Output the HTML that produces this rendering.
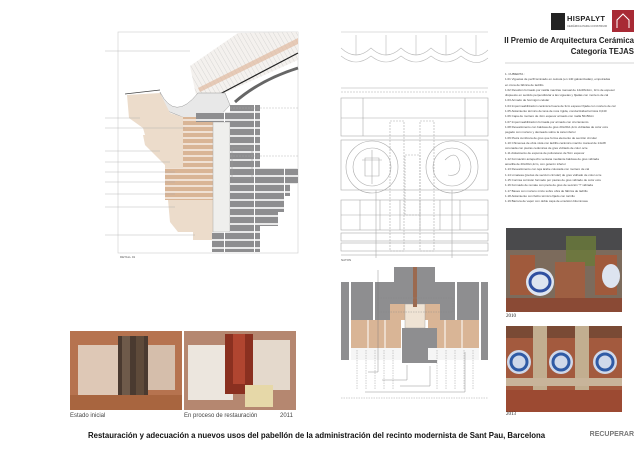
<!DOCTYPE html>
<html><head><meta charset="utf-8"><style>
html,body{margin:0;padding:0;background:#fff;}
body{width:640px;height:453px;position:relative;overflow:hidden;font-family:"Liberation Sans",sans-serif;}
.t{position:absolute;white-space:nowrap;color:#222;}
</style></head><body>
<svg width="640" height="453" style="position:absolute;left:0;top:0" xmlns="http://www.w3.org/2000/svg">
<defs>
<pattern id="hatch" width="4" height="4" patternUnits="userSpaceOnUse" patternTransform="rotate(-30)">
<rect width="4" height="4" fill="#f4f1ee"/><line x1="0" y1="0" x2="0" y2="4" stroke="#bbb" stroke-width="0.5"/></pattern>
<pattern id="gbrick" width="30" height="8" patternUnits="userSpaceOnUse">
<rect width="30" height="8" fill="#fff"/><rect x="0" y="0.8" width="14" height="6.4" fill="#8e8e90"/><rect x="15" y="0.8" width="15" height="6.4" fill="#8e8e90"/></pattern>
<pattern id="tbrick" width="30" height="6" patternUnits="userSpaceOnUse">
<rect width="30" height="6" fill="#fff"/><rect x="0" y="0.6" width="30" height="4.8" fill="#d9b596"/></pattern>
</defs>
<rect x="118" y="32" width="180" height="221" fill="none" stroke="#ccc" stroke-width="0.6"/>
<polygon points="190,66 238,33 298,32 298,60 220,95 196,95" fill="url(#hatch)"/>
<polygon points="198,88 298,38 298,44 200,92" fill="#e0b9a0" opacity="0.7"/>
<line x1="218" y1="95" x2="298" y2="53" stroke="#222" stroke-width="1.2"/>
<path d="M235,102 Q260,80 298,68" stroke="#666" stroke-width="3" fill="none"/>
<path d="M160,92 Q175,122 198,93 L225,93 L230,105 L218,118 L185,118 L165,110 Z" fill="#e8e8e8" stroke="#999" stroke-width="0.5"/>
<line x1="125" y1="94" x2="160" y2="90" stroke="#444" stroke-width="0.8"/>
<polygon points="127,95 160,93 170,113 183,117 183,135 145,135 143,128 129,118" fill="#ecdccb"/>
<polygon points="143,135 183,135 183,165 165,165 155,155 145,145" fill="#ecdccb"/>
<polygon points="165,165 183,165 183,200 165,200" fill="#ecdccb"/>
<polygon points="168,200 213,200 213,232 178,232 170,222" fill="#ecdccb"/>
<rect x="193" y="230" width="20" height="10" fill="#ecdccb"/>
<rect x="183" y="117" width="30" height="83" fill="url(#tbrick)"/>
<rect x="165" y="168" width="20" height="32" fill="url(#tbrick)"/>
<rect x="213" y="122" width="17" height="110" fill="#efefed" stroke="#aaa" stroke-width="0.5"/>
<rect x="230" y="105" width="30" height="145" fill="url(#gbrick)"/>
<rect x="196" y="112" width="34" height="10" fill="url(#gbrick)"/>
<rect x="212" y="232" width="48" height="20" fill="url(#gbrick)"/>
<rect x="260" y="168" width="38" height="16" fill="url(#gbrick)"/>
<rect x="260" y="184" width="30" height="12" fill="url(#gbrick)"/>
<rect x="260" y="196" width="25" height="16" fill="url(#gbrick)"/>
<rect x="260" y="212" width="18" height="14" fill="url(#gbrick)"/>
<rect x="232" y="148" width="20" height="30" fill="none" stroke="#999" stroke-width="0.5"/>
<g stroke="#aaa" stroke-width="0.4">
<line x1="105" y1="51" x2="190" y2="51"/><line x1="105" y1="118" x2="140" y2="118"/><line x1="105" y1="128" x2="185" y2="128"/><line x1="105" y1="151" x2="160" y2="151"/><line x1="105" y1="162" x2="170" y2="162"/><line x1="105" y1="172" x2="175" y2="172"/><line x1="105" y1="182" x2="175" y2="182"/><line x1="105" y1="194" x2="175" y2="194"/><line x1="105" y1="207" x2="175" y2="207"/><line x1="105" y1="235" x2="195" y2="235"/>
<line x1="230" y1="156" x2="298" y2="156" stroke-dasharray="2,1"/><line x1="230" y1="108" x2="298" y2="108" stroke-dasharray="2,1"/>
</g>
<g fill="none" stroke="#bbb" stroke-width="0.6">
<line x1="341" y1="32" x2="488" y2="32"/>
<path d="M341,48 Q356,62 371,48 Q386,62 401,48 Q416,62 431,48 Q446,62 461,48 Q476,62 488,50"/>
<path d="M341,56 Q356,68 371,56 Q386,68 401,56 Q416,68 431,56 Q446,68 461,56 Q476,68 488,58"/>
<path d="M356,35 V55 M386,35 V55 M416,35 V55 M446,35 V55 M476,35 V55"/>
</g>
<g fill="none" stroke="#aaa" stroke-width="0.6">
<line x1="341" y1="88" x2="488" y2="88"/><line x1="341" y1="92" x2="488" y2="92" stroke-dasharray="2,1"/>
<rect x="341" y="98" width="147" height="38"/><line x1="363" y1="98" x2="363" y2="136"/><line x1="465" y1="98" x2="465" y2="136"/>
<line x1="341" y1="118" x2="488" y2="118"/>
<circle cx="372" cy="167" r="26"/><circle cx="372" cy="167" r="19"/>
<circle cx="452" cy="167" r="26"/><circle cx="452" cy="167" r="19"/>
<path d="M362,160 h20 M372,150 v34 M365,158 h14 v18 h-14z"/>
<path d="M445,160 q12,-12 15,5 q0,12 -12,10"/>
<rect x="341" y="140" width="147" height="50"/>
<rect x="341" y="200" width="147" height="30"/><line x1="341" y1="215" x2="488" y2="215"/>
<path d="M360,200 v30 M380,200 v30 M400,200 v30 M420,200 v30 M440,200 v30 M460,200 v30"/>
<rect x="341" y="233" width="147" height="8"/><rect x="341" y="243" width="147" height="8"/>
<g stroke-dasharray="2,1"><rect x="390" y="121" width="14" height="130"/><rect x="420" y="121" width="14" height="130"/><rect x="405" y="155" width="15" height="60"/></g>
<line x1="341" y1="255" x2="488" y2="255" stroke="#999"/>
<line x1="376" y1="190" x2="376" y2="258"/><line x1="452" y1="190" x2="452" y2="258"/>
</g>
<rect x="341" y="282" width="8" height="78" fill="#8e8e90"/>
<rect x="481" y="282" width="7" height="78" fill="#8e8e90"/>
<rect x="351" y="282" width="22" height="38" fill="#8e8e90"/>
<rect x="375" y="282" width="20" height="38" fill="#8e8e90"/>
<rect x="435" y="282" width="20" height="38" fill="#8e8e90"/>
<rect x="457" y="282" width="22" height="38" fill="#8e8e90"/>
<rect x="394" y="267" width="41" height="37" fill="#8e8e90"/>
<rect x="390" y="304" width="50" height="16" fill="#d9b596"/>
<rect x="405" y="304" width="20" height="24" fill="#efe3d4" stroke="#999" stroke-width="0.4"/>
<rect x="413" y="267" width="4" height="40" fill="#9b6a50"/>
<rect x="351" y="320" width="50" height="28" fill="#d9b596"/>
<rect x="428" y="320" width="51" height="28" fill="#d9b596"/>
<g stroke="#fff" stroke-width="1"><line x1="368" y1="320" x2="368" y2="348"/><line x1="385" y1="320" x2="385" y2="348"/><line x1="445" y1="320" x2="445" y2="348"/><line x1="462" y1="320" x2="462" y2="348"/></g>
<rect x="402" y="328" width="35" height="35" fill="#8e8e90"/>
<rect x="351" y="348" width="50" height="12" fill="#f5f5f5"/><rect x="428" y="348" width="51" height="12" fill="#f5f5f5"/>
<g stroke="#888" stroke-width="0.4" stroke-dasharray="1.5,1" fill="none">
<rect x="378" y="298" width="75" height="14"/>
<path d="M357,350 v40 M366,350 v40 M375,350 v40 M384,350 v40 M393,350 v40 M437,350 v40 M446,350 v40 M455,350 v40 M464,350 v40 M473,350 v40"/>
<line x1="341" y1="398" x2="488" y2="398"/>
</g>
<g stroke="#777" stroke-width="0.4" fill="none"><path d="M378,270 v102 h-10 M382,380 h25 v-15 M400,386 h30 v-20 M365,392 h100 v-40"/></g>
<rect x="70" y="331" width="112" height="79" fill="#b6734f"/>
<rect x="78" y="345" width="40" height="50" fill="#e8ddd0" opacity="0.8"/>
<rect x="135" y="345" width="40" height="45" fill="#ddd1c2" opacity="0.8"/>
<rect x="118" y="336" width="30" height="60" fill="#4a3a30"/>
<rect x="122" y="336" width="8" height="60" fill="#6e5a4a"/><rect x="136" y="336" width="8" height="60" fill="#5e4a3a"/>
<rect x="70" y="395" width="112" height="15" fill="#a8653f"/>
<rect x="184" y="331" width="112" height="79" fill="#b58770"/>
<rect x="188" y="345" width="45" height="55" fill="#ece6de"/>
<rect x="250" y="340" width="40" height="50" fill="#e4d9cc"/>
<rect x="225" y="334" width="28" height="60" fill="#8a3020"/>
<rect x="233" y="334" width="12" height="50" fill="#b04530"/>
<rect x="245" y="385" width="28" height="22" fill="#e6d8a8"/>
<rect x="506" y="228" width="116" height="84" fill="#7c6b5c"/>
<rect x="506" y="228" width="116" height="22" fill="#4a4a4c"/>
<rect x="566" y="236" width="30" height="30" fill="#6a7a3a" opacity="0.8"/>
<rect x="510" y="255" width="25" height="40" fill="#a05a3c"/>
<rect x="555" y="262" width="30" height="40" fill="#9e5f42"/>
<rect x="595" y="255" width="22" height="40" fill="#a05a3c"/>
<ellipse cx="540" cy="282" rx="14" ry="14" fill="#dde4f0"/><ellipse cx="540" cy="282" rx="10" ry="9" fill="none" stroke="#2f4fa0" stroke-width="3"/>
<ellipse cx="611" cy="276" rx="9" ry="12" fill="#dde4f0"/>
<rect x="506" y="298" width="116" height="14" fill="#8a4a35"/>
<rect x="506" y="326" width="116" height="86" fill="#a35a3e"/>
<rect x="506" y="326" width="116" height="12" fill="#7a4a35"/>
<rect x="533" y="326" width="14" height="70" fill="#c2ae90"/><rect x="575" y="326" width="14" height="70" fill="#c2ae90"/>
<circle cx="519" cy="362" r="12" fill="#cfd8ea"/><circle cx="519" cy="362" r="8" fill="none" stroke="#2f5aa5" stroke-width="3"/>
<circle cx="561" cy="362" r="12" fill="#cfd8ea"/><circle cx="561" cy="362" r="8" fill="none" stroke="#2f5aa5" stroke-width="3"/>
<circle cx="605" cy="362" r="12" fill="#cfd8ea"/><circle cx="605" cy="362" r="8" fill="none" stroke="#2f5aa5" stroke-width="3"/>
<rect x="506" y="378" width="116" height="8" fill="#c8b49a"/>
<rect x="506" y="390" width="116" height="22" fill="#9c4a32"/>
<rect x="551" y="13" width="14" height="17" fill="#222"/>
<rect x="612" y="10" width="22" height="22" fill="#a82a35"/>
<path d="M617,28 v-8 l6,-6 l6,6 v8" fill="none" stroke="#fff" stroke-width="1"/>
<line x1="505" y1="63" x2="634" y2="63" stroke="#aaa" stroke-width="0.6"/>
</svg>
<div class="t" style="left:567px;top:14px;font-size:7.5px;font-weight:bold;letter-spacing:0.3px">HISPALYT</div>
<div class="t" style="left:567px;top:24px;font-size:2.8px;color:#555">CERÁMICA PARA CONSTRUIR</div>
<div class="t" style="right:6px;top:36px;font-size:7.8px;font-weight:bold">II Premio de Arquitectura Cerámica</div>
<div class="t" style="right:6px;top:47px;font-size:7.8px;font-weight:bold">Categoría TEJAS</div>
<div style="position:absolute;left:505px;top:72px;width:128px;font-size:3px;line-height:5.3px;color:#444">
1. CUBIERTA :<br>1.01 Viguetas de perfil laminado en celosía (en 140 galvanizadas), empotradas<br>en zona de fábrica de ladrillo<br>1.02 Revoltón formado por rasilla macizas manual de 14x28x4cm, 3cm de espesor<br>dispuesto en sentido perpendicular a las viguetas y fijadas con mortero de cal<br>1.03 Armado de hormigón celular<br>1.04 Impermeabilización cerámica hueca de 3cm espesor fijada con mortero de cal<br>1.05 Aislamiento térmico de lana de roca rígida, conductividad térmica 0,040<br>1.06 Capa de mortero de 4cm espesor armado con malla 50x50cm<br>1.07 Impermeabilización formada por armado con cruzamiento<br>1.08 Revestimiento con baldosa de gres 20x20x1,2cm vidriadas de color ocre<br>pegado con mortero y denteado sobre la cara inferior<br>1.09 Pieza cumbrera de gres que forma elemento de sección circular<br>1.10 Chimenea de obra vista con ladrillo cerámico macizo manual de 14x28<br>coronada con piezas cerámicas de gres vidriado de color ocre<br>1.11 Aislamiento de espuma de poliuretano de 5cm espesor<br>1.12 Formación antepecho ventana mediante baldosa de gres vidriada<br>amarilla de 20x20x1,2cm, con goterón inferior<br>1.13 Revestimiento con teja árabe colocada con mortero de cal<br>1.14 Limatesa (piezas de sección circular) de gres vidriado de color ocre<br>1.15 Cornisa cornisón formado por piezas de gres vidriado de color ocre<br>1.16 Formado de remate con pieza de gres de sección 'T' vidriada<br>1.17 Bases con mortero mixto sobre obra de fábrica de ladrillo<br>1.18 Aislamiento con fieltro térmico fijado con tornillo<br>1.19 Barrera de vapor con doble capa de emulsión bituminosa
</div>
<div class="t" style="left:506px;top:314px;font-size:5px;font-family:'Liberation Serif',serif">2010</div>
<div class="t" style="left:506px;top:412px;font-size:5px;font-family:'Liberation Serif',serif">2013</div>
<div class="t" style="left:70px;top:413px;font-size:6px;color:#444">Estado inicial</div>
<div class="t" style="left:184px;top:413px;font-size:6px;color:#444">En proceso de restauración</div>
<div class="t" style="left:280px;top:413px;font-size:6px;color:#444">2011</div>
<div class="t" style="left:88px;top:431px;font-size:7.8px;font-weight:bold;color:#111">Restauración y adecuación a nuevos usos del pabellón de la administración del recinto modernista de Sant Pau, Barcelona</div>
<div class="t" style="right:6px;top:431px;font-size:7px;font-weight:bold;color:#777">RECUPERAR</div>
<div class="t" style="left:120px;top:255px;font-size:3px;color:#555">DETALL 01</div>
<div class="t" style="left:341px;top:258px;font-size:3px;color:#555">NATON</div>
</body></html>
